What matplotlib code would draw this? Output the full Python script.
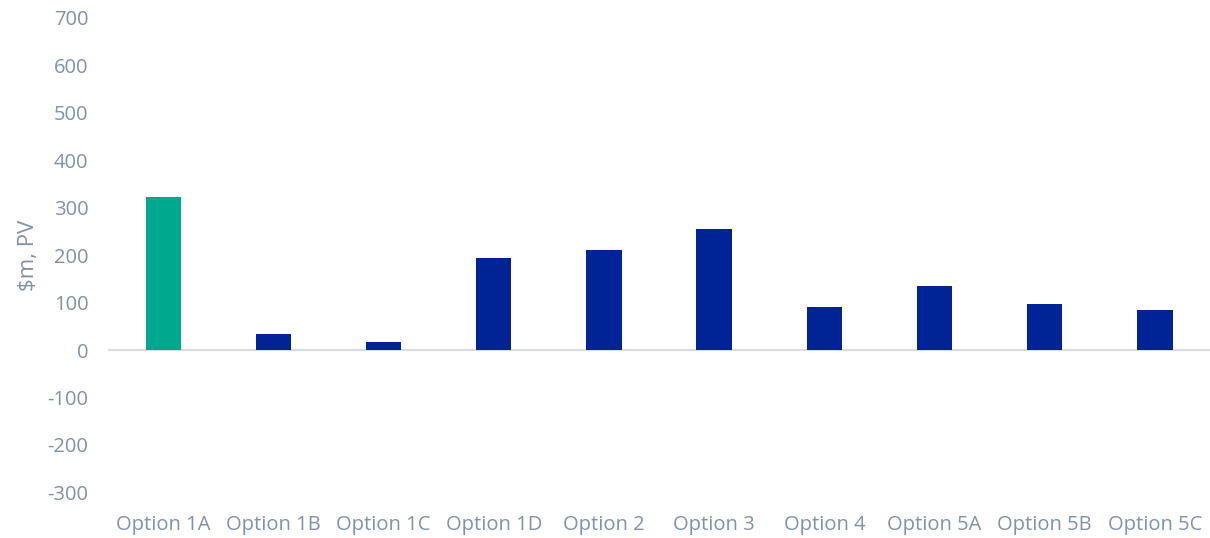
import matplotlib.pyplot as plt

# Present value by option
OPTIONS = ['Option 1A', 'Option 1B', 'Option 1C', 'Option 1D', 'Option 2',
           'Option 3', 'Option 4', 'Option 5A', 'Option 5B', 'Option 5C']
VALUES = [323, 34, 16, 194, 211, 256, 90, 134, 97, 84]

TEAL = '#00A88E'
NAVY = '#002496'
TEXT = '#7F93AB'
COLORS = [TEAL] + [NAVY] * (len(OPTIONS) - 1)

plt.rcParams['font.family'] = ['Open Sans', 'DejaVu Sans']
plt.rcParams['axes.unicode_minus'] = False

fig = plt.figure(figsize=(12.1, 5.38), dpi=100)
ax = fig.add_axes([0.0893, 0.0848, 0.9107, 0.882])

x = range(len(OPTIONS))
ax.bar(x, VALUES, width=0.32, color=COLORS, zorder=3)
ax.axhline(0, color='#D9DDE3', linewidth=1.6, zorder=2)

ax.set_xlim(-0.5, len(OPTIONS) - 0.5)
ax.set_ylim(-300, 700)
ax.set_yticks(range(-300, 701, 100))
ax.set_xticks(list(x))
ax.set_xticklabels(OPTIONS)

ax.tick_params(axis='both', length=0, labelsize=14.5, labelcolor=TEXT)
ax.tick_params(axis='y', pad=14)
ax.tick_params(axis='x', pad=16)
ax.set_ylabel('$m, PV', fontsize=16, color=TEXT, labelpad=6)

for side in ['top', 'right', 'left', 'bottom']:
    ax.spines[side].set_visible(False)

fig.savefig('out.png', dpi=100)
